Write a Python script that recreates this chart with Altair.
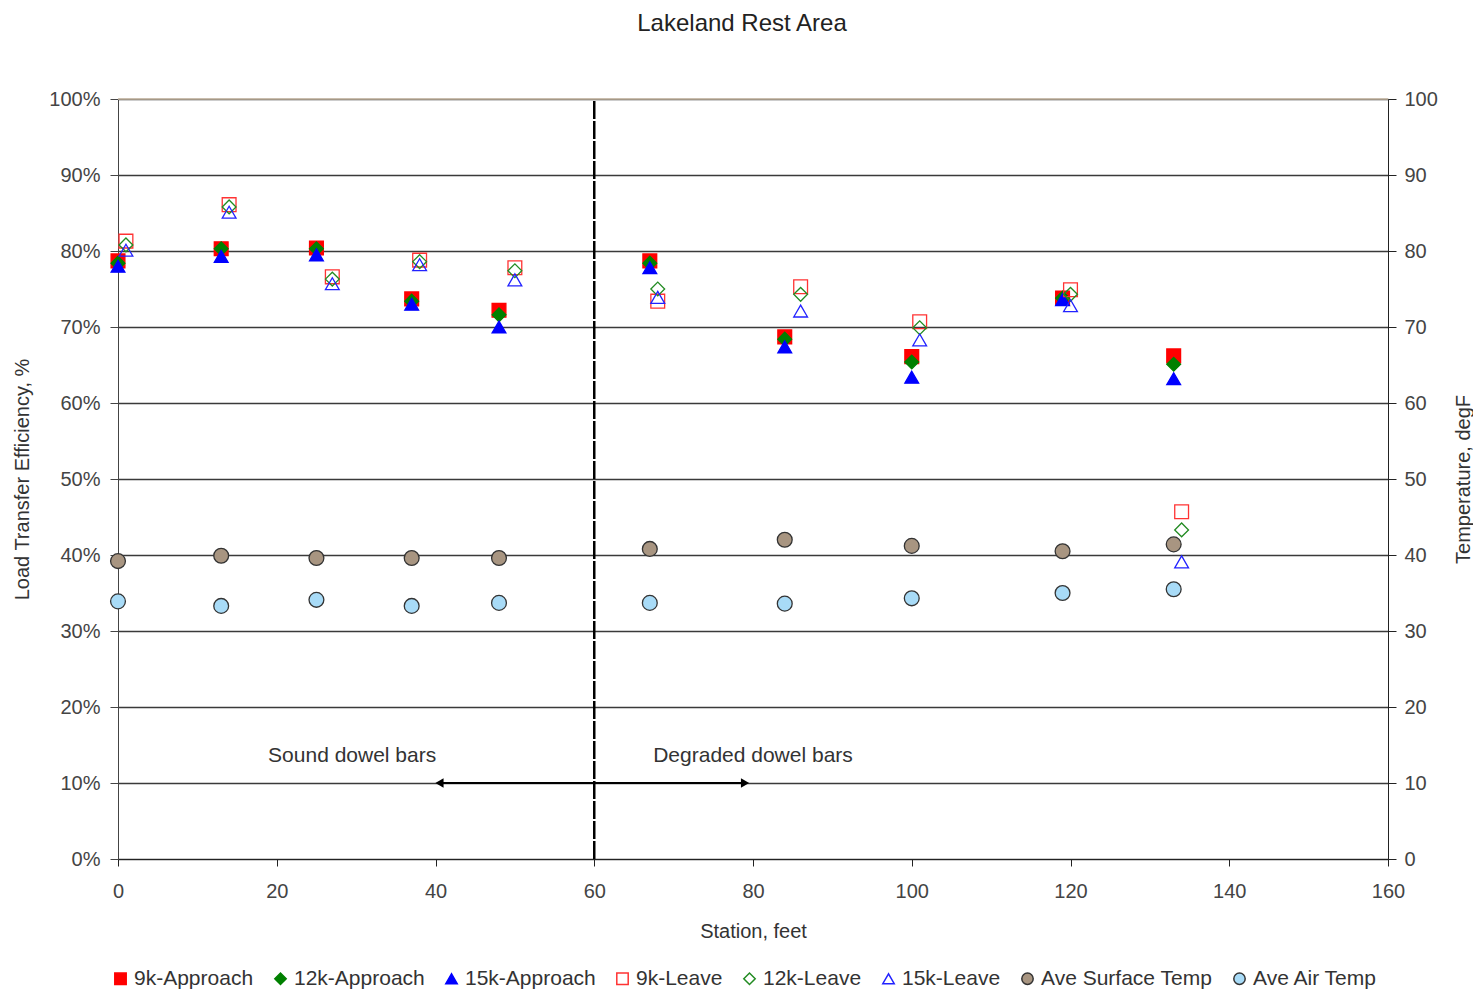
import altair as alt
import pandas as pd

# ---- data ----
station_approach = [0, 13, 25, 37, 48, 67, 84, 100, 119, 133]
station_leave = [1, 14, 27, 38, 50, 68, 86, 101, 120, 134]

lte_9k_approach = [78.7, 80.3, 80.4, 73.7, 72.2, 78.7, 68.7, 66.1, 73.8, 66.2]
lte_12k_approach = [78.4, 80.3, 80.3, 73.4, 71.6, 78.4, 68.4, 65.4, 73.8, 65.1]
lte_15k_approach = [78.0, 79.3, 79.5, 73.0, 70.0, 77.8, 67.4, 63.4, 73.6, 63.2]
lte_9k_leave = [81.3, 86.1, 76.6, 78.8, 77.8, 73.4, 75.3, 70.7, 74.9, 45.7]
lte_12k_leave = [80.8, 85.8, 76.3, 78.6, 77.4, 75.0, 74.3, 69.9, 74.3, 43.3]
lte_15k_leave = [80.1, 85.1, 75.7, 78.2, 76.2, 73.9, 72.1, 68.3, 72.8, 39.1]
surface_temp = [39.2, 39.9, 39.6, 39.6, 39.6, 40.8, 42.0, 41.2, 40.5, 41.4]
air_temp = [33.9, 33.3, 34.1, 33.3, 33.7, 33.7, 33.6, 34.3, 35.0, 35.5]

series_names = ["9k-Approach", "12k-Approach", "15k-Approach", "9k-Leave",
                "12k-Leave", "15k-Leave", "Ave Surface Temp", "Ave Air Temp"]
series_fill = ["#FF0000", "#008000", "#0000FF", "transparent", "transparent",
               "transparent", "#A89581", "#A8DBF7"]
series_stroke = ["#FF0000", "#008000", "#0000FF", "#FF3333", "#228B22",
                 "#2222FF", "#333333", "#333333"]
series_shape = ["square", "diamond", "triangle-up", "square", "diamond",
                "triangle-up", "circle", "circle"]

annot_text = ["Sound dowel bars", "Degraded dowel bars"]
annot_x = [29.5, 80]
annot_y = [13.6, 13.6]

FONT = "Liberation Sans"

rows = []
for name, st, vals in [
    ("9k-Approach", station_approach, lte_9k_approach),
    ("12k-Approach", station_approach, lte_12k_approach),
    ("15k-Approach", station_approach, lte_15k_approach),
    ("9k-Leave", station_leave, lte_9k_leave),
    ("12k-Leave", station_leave, lte_12k_leave),
    ("15k-Leave", station_leave, lte_15k_leave),
]:
    for s, v in zip(st, vals):
        rows.append({"series": name, "station": s, "value": v})
lte_df = pd.DataFrame(rows)

rows = []
for name, vals in [("Ave Surface Temp", surface_temp), ("Ave Air Temp", air_temp)]:
    for s, v in zip(station_approach, vals):
        rows.append({"series": name, "station": s, "value": v})
temp_df = pd.DataFrame(rows)

xscale = alt.Scale(domain=[0, 160], nice=False)
yscale = alt.Scale(domain=[0, 100], nice=False)
xaxis = alt.Axis(values=list(range(0, 161, 20)), title="Station, feet",
                 grid=False, tickSize=7, labelPadding=15, titlePadding=20,
                 labelFlush=False, labelFontSize=20, titleFontSize=20,
                 titleFontWeight="normal", labelColor="#444", titleColor="#333",
                 domainColor="#222", tickColor="#222", labelFont=FONT, titleFont=FONT)

legend = alt.Legend(orient="none", legendX=-8, legendY=869, direction="horizontal",
                    title=None, labelFontSize=21, labelFont=FONT, labelColor="#333",
                    labelLimit=400, symbolSize=130, symbolStrokeWidth=1.5,
                    columnPadding=16, labelOffset=3)

fill_enc = alt.Fill("series:N", scale=alt.Scale(domain=series_names, range=series_fill), legend=legend)
stroke_enc = alt.Stroke("series:N", scale=alt.Scale(domain=series_names, range=series_stroke), legend=legend)
shape_enc = alt.Shape("series:N", scale=alt.Scale(domain=series_names, range=series_shape), legend=legend)

left_y = alt.Y("value:Q", scale=yscale,
               axis=alt.Axis(values=list(range(0, 101, 10)), labelExpr="datum.value + '%'",
                             title="Load Transfer Efficiency, %", grid=True,
                             gridColor="#3a3a3a", gridWidth=1.3, tickSize=8,
                             labelPadding=10, titlePadding=16, labelFontSize=20,
                             titleFontSize=20, titleFontWeight="normal",
                             labelColor="#444", titleColor="#333", domainColor="#444",
                             tickColor="#444", labelFont=FONT, titleFont=FONT))

lte_layer = alt.Chart(lte_df).mark_point(size=190, strokeWidth=1.3, opacity=1).encode(
    x=alt.X("station:Q", scale=xscale, axis=xaxis),
    y=left_y,
    fill=fill_enc, stroke=stroke_enc, shape=shape_enc,
)

temp_layer = alt.Chart(temp_df).mark_point(size=220, strokeWidth=1.3, opacity=1).encode(
    x=alt.X("station:Q", scale=xscale),
    y=alt.Y("value:Q", scale=yscale,
            axis=alt.Axis(orient="right", values=list(range(0, 101, 10)),
                          title="Temperature, degF", titleAngle=-90, grid=False, tickSize=8,
                          labelPadding=8, titlePadding=36, labelFontSize=20,
                          titleFontSize=20, titleFontWeight="normal",
                          labelColor="#444", titleColor="#333", domainColor="#222",
                          tickColor="#222", labelFont=FONT, titleFont=FONT)),
    fill=fill_enc, stroke=stroke_enc, shape=shape_enc,
)

# annotation layers (use left scale)
top_df = pd.DataFrame({"y": [100]})
top_line = alt.Chart(top_df).mark_rule(color="#C9B8A3", strokeWidth=1.5).encode(
    y=alt.Y("y:Q", scale=yscale))

div_df = pd.DataFrame({"x": [60], "y0": [0], "y1": [100]})
divider = alt.Chart(div_df).mark_rule(color="#000", strokeWidth=2.5, strokeDash=[18, 2]).encode(
    x=alt.X("x:Q", scale=xscale),
    y=alt.Y("y0:Q", scale=yscale),
    y2="y1:Q")

arrow_df = pd.DataFrame({"x0": [40.5], "x1": [79.0], "y": [10]})
arrow_line = alt.Chart(arrow_df).mark_rule(color="#000", strokeWidth=1.8).encode(
    x=alt.X("x0:Q", scale=xscale), x2="x1:Q",
    y=alt.Y("y:Q", scale=yscale))

left_head_df = pd.DataFrame({"x": [40.5], "y": [10]})
right_head_df = pd.DataFrame({"x": [79.0], "y": [10]})
head_left = alt.Chart(left_head_df).mark_point(
    filled=True, color="#000", size=90, opacity=1, shape="triangle-left").encode(
    x=alt.X("x:Q", scale=xscale), y=alt.Y("y:Q", scale=yscale))
head_right = alt.Chart(right_head_df).mark_point(
    filled=True, color="#000", size=90, opacity=1, shape="triangle-right").encode(
    x=alt.X("x:Q", scale=xscale), y=alt.Y("y:Q", scale=yscale))

text_df = pd.DataFrame({"x": annot_x, "y": annot_y, "t": annot_text})
texts = alt.Chart(text_df).mark_text(fontSize=21, font=FONT, color="#333").encode(
    x=alt.X("x:Q", scale=xscale),
    y=alt.Y("y:Q", scale=yscale),
    text="t:N")

left_group = alt.layer(lte_layer, top_line, divider, arrow_line, head_left, head_right, texts)

chart = alt.layer(left_group, temp_layer).resolve_scale(y="independent").properties(
    width=1270, height=760,
    title=alt.TitleParams("Lakeland Rest Area", fontSize=24, font=FONT,
                          fontWeight="normal", color="#222", offset=53, dx=-11),
    autosize=alt.AutoSizeParams(type="none"),
    padding={"left": 110, "top": 91, "right": 85, "bottom": 130},
).configure_view(stroke=None)

chart.save("out.html", embed_options={"renderer": "svg", "actions": False})
